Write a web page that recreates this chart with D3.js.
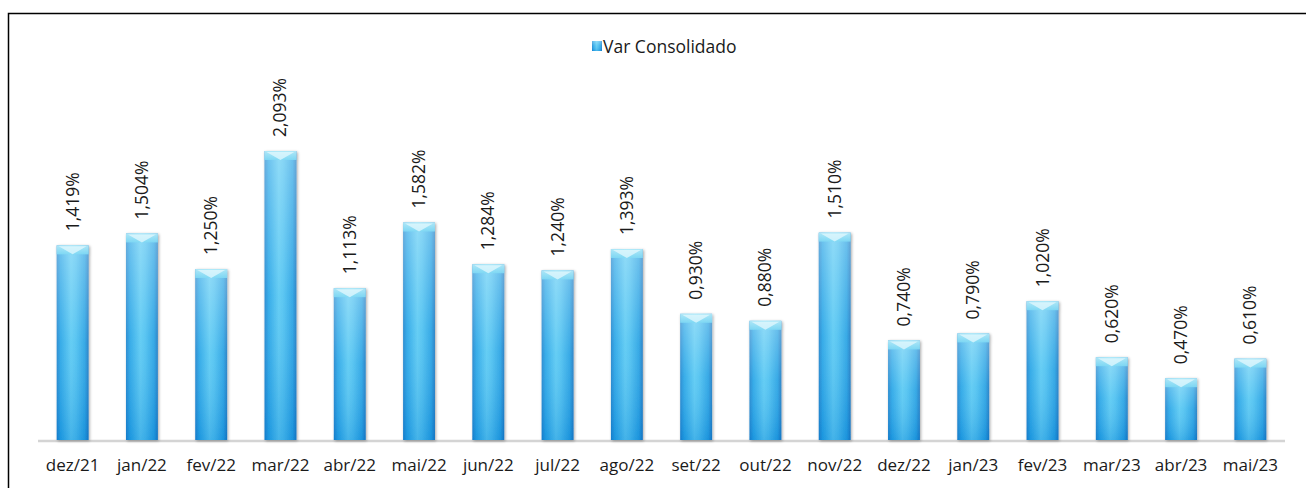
<!DOCTYPE html>
<html>
<head>
<meta charset="utf-8">
<script src="https://cdn.jsdelivr.net/npm/d3@7/dist/d3.min.js"></script>
<style>
  html, body { margin: 0; padding: 0; background: #fff; }
  svg { display: block; }
  text { font-family: "Open Sans", "Noto Sans", sans-serif; fill: #1a1a1a; }
</style>
</head>
<body>
<svg id="chart" width="1306" height="488"></svg>
<script>
// Monthly consolidated variation (%)
const months = ["dez/21","jan/22","fev/22","mar/22","abr/22","mai/22","jun/22","jul/22","ago/22","set/22","out/22","nov/22","dez/22","jan/23","fev/23","mar/23","abr/23","mai/23"];
const values = [1.419, 1.504, 1.250, 2.093, 1.113, 1.582, 1.284, 1.240, 1.393, 0.930, 0.880, 1.510, 0.740, 0.790, 1.020, 0.620, 0.470, 0.610];
const seriesName = "Var Consolidado";

const svg = d3.select("#chart");

const fmt = v => d3.format(".3f")(v).replace(".", ",") + "%";

// outer frame (open on right/bottom)
svg.append("rect")
  .attr("x", 8.5).attr("y", 13.5)
  .attr("width", 1400).attr("height", 600)
  .attr("fill", "none").attr("stroke", "#000").attr("stroke-width", 1.5);

const defs = svg.append("defs");
// horizontal shading: darker edges, lighter core
const gH = defs.append("linearGradient").attr("id", "barH").attr("x1", "0").attr("x2", "1").attr("y1", "0").attr("y2", "0");
[[0, "#1a82cc"], [0.12, "#22a3e6"], [0.45, "#55c8f3"], [0.6, "#48bff0"], [0.88, "#22a0e3"], [1, "#1878c2"]]
  .forEach(([o, c]) => gH.append("stop").attr("offset", o).attr("stop-color", c));
// vertical shading: lighter toward top, deeper toward base
const gV = defs.append("linearGradient").attr("id", "barV").attr("x1", "0").attr("x2", "0").attr("y1", "0").attr("y2", "1");
[[0, "#ffffff", 0.35], [0.5, "#ffffff", 0.1], [1, "#0060c0", 0.2]]
  .forEach(([o, c, a]) => gV.append("stop").attr("offset", o).attr("stop-color", c).attr("stop-opacity", a));
// top cap
const gC = defs.append("linearGradient").attr("id", "cap").attr("x1", "0").attr("x2", "0").attr("y1", "0").attr("y2", "1");
[[0, "#b6ecf9"], [1, "#7fd9f4"]].forEach(([o, c]) => gC.append("stop").attr("offset", o).attr("stop-color", c));
const shadow = defs.append("filter").attr("id", "shadow").attr("x", "-30%").attr("y", "-10%").attr("width", "160%").attr("height", "120%");
shadow.append("feGaussianBlur").attr("in", "SourceAlpha").attr("stdDeviation", 1.5).attr("result", "b");
shadow.append("feOffset").attr("in", "b").attr("dx", 1).attr("dy", 1).attr("result", "o");
shadow.append("feComponentTransfer").attr("in", "o").attr("result", "s")
  .append("feFuncA").attr("type", "linear").attr("slope", 0.35);
const fm = shadow.append("feMerge");
fm.append("feMergeNode").attr("in", "s");
fm.append("feMergeNode").attr("in", "SourceGraphic");

const baseY = 441;
const x = d3.scaleBand().domain(months).range([38, 1285]).paddingInner(0.54).paddingOuter(0.27);
const y = d3.scaleLinear().domain([0, 2.093]).range([444, 151]);

// baseline
svg.append("line")
  .attr("x1", 38).attr("x2", 1285).attr("y1", baseY).attr("y2", baseY)
  .attr("stroke", "#d4d4d4").attr("stroke-width", 2.5);

const bars = svg.append("g").selectAll("g").data(months).join("g")
  .attr("filter", "url(#shadow)");
bars.append("rect")
  .attr("x", d => x(d)).attr("width", x.bandwidth())
  .attr("y", (d, i) => y(values[i])).attr("height", (d, i) => baseY - 1 - y(values[i]))
  .attr("fill", "url(#barH)");
bars.append("rect")
  .attr("x", d => x(d)).attr("width", x.bandwidth())
  .attr("y", (d, i) => y(values[i])).attr("height", (d, i) => baseY - 1 - y(values[i]))
  .attr("fill", "url(#barV)");
// cap band with a light chevron
bars.append("rect")
  .attr("x", d => x(d)).attr("width", x.bandwidth())
  .attr("y", (d, i) => y(values[i])).attr("height", 9)
  .attr("fill", "url(#cap)").attr("opacity", 0.9);
bars.append("path")
  .attr("d", (d, i) => {
    const x0 = x(d), w = x.bandwidth(), t = y(values[i]);
    return `M${x0 + 2},${t + 1}L${x0 + w / 2},${t + 9}L${x0 + w - 2},${t + 1}Z`;
  })
  .attr("fill", "#e4f8fd").attr("opacity", 0.75);

// value labels, rotated
svg.append("g").selectAll("text").data(months).join("text")
  .attr("transform", (d, i) => `translate(${x(d) + x.bandwidth() / 2 + 6},${y(values[i]) - 14}) rotate(-90)`)
  .attr("text-anchor", "start")
  .attr("font-size", 17.5)
  .text((d, i) => fmt(values[i]));

// category axis
const xAxis = svg.append("g").attr("transform", `translate(0,${baseY})`)
  .call(d3.axisBottom(x).tickSize(0).tickPadding(18));
xAxis.select(".domain").remove();
xAxis.selectAll("text").attr("font-size", 17).attr("fill", "#1a1a1a")
  .style("font-family", '"Open Sans", "Noto Sans", sans-serif');

// legend
const lg = svg.append("g").attr("transform", "translate(592,41)");
lg.append("rect").attr("width", 10).attr("height", 10).attr("fill", "url(#barH)");
lg.append("rect").attr("width", 10).attr("height", 10).attr("fill", "url(#barV)");
lg.append("text").attr("x", 11).attr("y", 12).attr("font-size", 17.5).text(seriesName);
</script>
</body>
</html>
